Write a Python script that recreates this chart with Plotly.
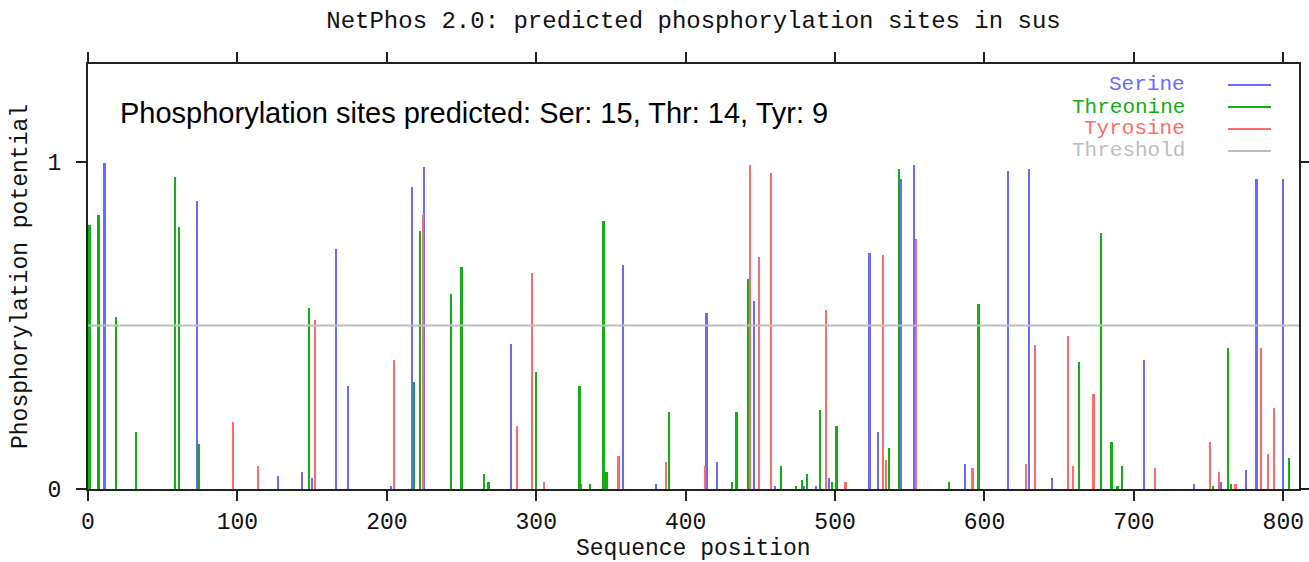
import plotly.graph_objects as go

# Predicted sites: sequence position and NetPhos score per residue type
ser_pos = [11, 73, 127, 143, 150, 166, 174, 203, 217, 225, 283, 330, 358, 380, 414, 421,
           446, 460, 479, 487, 496, 523, 529, 544, 553, 587, 616, 630, 645, 707, 740, 758,
           775, 782, 800]
ser_val = [0.997, 0.880, 0.040, 0.052, 0.034, 0.733, 0.316, 0.010, 0.923, 0.985, 0.445, 0.015,
           0.684, 0.015, 0.537, 0.083, 0.574, 0.010, 0.010, 0.010, 0.034, 0.721, 0.175, 0.948,
           0.991, 0.077, 0.972, 0.979, 0.034, 0.396, 0.015, 0.021, 0.058, 0.948, 0.948]

thr_pos = [1, 7, 19, 32, 58, 61, 74, 148, 218, 222, 243, 250, 265, 268, 300, 329, 336, 345,
           347, 389, 431, 434, 442, 464, 474, 478, 481, 490, 498, 501, 536, 543, 576, 596,
           663, 678, 685, 689, 692, 753, 763, 765, 804]
thr_val = [0.807, 0.837, 0.525, 0.175, 0.954, 0.801, 0.138, 0.555, 0.328, 0.788, 0.598, 0.678,
           0.046, 0.021, 0.359, 0.316, 0.015, 0.819, 0.052, 0.236, 0.021, 0.236, 0.641, 0.070,
           0.010, 0.028, 0.046, 0.242, 0.021, 0.193, 0.126, 0.979, 0.021, 0.567, 0.390, 0.782,
           0.144, 0.010, 0.070, 0.010, 0.432, 0.015, 0.095]

tyr_pos = [97, 114, 152, 205, 224, 287, 297, 305, 355, 387, 413, 443, 449, 457, 494, 507,
           532, 534, 554, 592, 628, 634, 656, 659, 673, 714, 751, 757, 768, 785, 790, 794]
tyr_val = [0.205, 0.070, 0.518, 0.396, 0.837, 0.193, 0.660, 0.021, 0.101, 0.083, 0.070, 0.991,
           0.709, 0.966, 0.549, 0.021, 0.715, 0.089, 0.764, 0.064, 0.077, 0.439, 0.469, 0.070,
           0.291, 0.064, 0.144, 0.052, 0.015, 0.432, 0.107, 0.248]

threshold = 0.5
seq_length = 810.5
x_ticks = [0, 100, 200, 300, 400, 500, 600, 700, 800]
y_ticks = [0, 1]
series_names = ["Serine", "Threonine", "Tyrosine", "Threshold"]
summary_text = "Phosphorylation sites predicted: Ser: 15, Thr: 14, Tyr: 9"
title_text = "NetPhos 2.0: predicted phosphorylation sites in sus"
x_title = "Sequence position"
y_title = "Phosphorylation potential"

C_SER = "#6a6aff"
C_THR = "#12ae12"
C_TYR = "#ff6a6a"
C_THR_LINE = "#bdbdbd"
MONO = "Liberation Mono, DejaVu Sans Mono, monospace"

fig = go.Figure()
for name, pos, val, col in [("Serine", ser_pos, ser_val, C_SER),
                            ("Threonine", thr_pos, thr_val, C_THR),
                            ("Tyrosine", tyr_pos, tyr_val, C_TYR)]:
    fig.add_trace(go.Bar(x=pos, y=val, name=name, width=1.45,
                         marker=dict(color=col, line=dict(width=0)),
                         showlegend=False, hoverinfo="x+y+name"))

# threshold line across the whole sequence
fig.add_shape(type="line", xref="paper", x0=0, x1=1, yref="y", y0=threshold, y1=threshold,
              line=dict(color=C_THR_LINE, width=2), layer="above")

# legend: right-aligned labels with a line sample to the right
leg_colors = [C_SER, C_THR, C_TYR, C_THR_LINE]
leg_y = [0.9506, 0.8988, 0.8471, 0.7953]
for name, col, yy in zip(series_names, leg_colors, leg_y):
    fig.add_annotation(text=name, xref="paper", yref="paper", x=0.9065, y=yy,
                       xanchor="right", yanchor="middle", showarrow=False, borderpad=0,
                       font=dict(family=MONO, size=21, color=col))
    fig.add_shape(type="line", xref="paper", yref="paper", x0=0.9413, x1=0.9769,
                  y0=yy, y1=yy, line=dict(color=col, width=2))

fig.add_annotation(text=summary_text, xref="paper", yref="paper", x=0.025, y=0.885,
                   xanchor="left", yanchor="middle", showarrow=False,
                   font=dict(family="Liberation Sans, Arial, sans-serif", size=29, color="#000"))

# x-axis title sits low, near the bottom edge of the page
fig.add_annotation(text=x_title, xref="paper", yref="paper", x=0.5, y=-0.142,
                   xanchor="center", yanchor="middle", showarrow=False, borderpad=0,
                   font=dict(family=MONO, size=23, color="#111"))

axis_common = dict(showline=True, linecolor="#222", linewidth=2, mirror="ticks",
                   ticks="outside", ticklen=10, tickwidth=2, tickcolor="#222",
                   showgrid=False, zeroline=False, automargin=False,
                   tickfont=dict(family=MONO, size=23, color="#111"))

fig.update_layout(
    width=1309, height=562,
    margin=dict(l=88, r=10, t=64, b=73),
    paper_bgcolor="white", plot_bgcolor="white",
    barmode="overlay", bargap=0,
    title=dict(text=title_text, x=0.5, xref="paper", y=1 - 20 / 562, yref="container",
               xanchor="center", yanchor="middle", automargin=False,
               font=dict(family=MONO, size=24, color="#111")),
    xaxis=dict(range=[0, seq_length], tickvals=x_ticks, ticklabelstandoff=0, **axis_common),
    yaxis=dict(range=[0, 1.3], tickvals=y_ticks, ticklabelstandoff=10, **axis_common,
               title=dict(text=y_title, standoff=14,
                          font=dict(family=MONO, size=23, color="#111"))),
)

fig.write_html("out.html")
